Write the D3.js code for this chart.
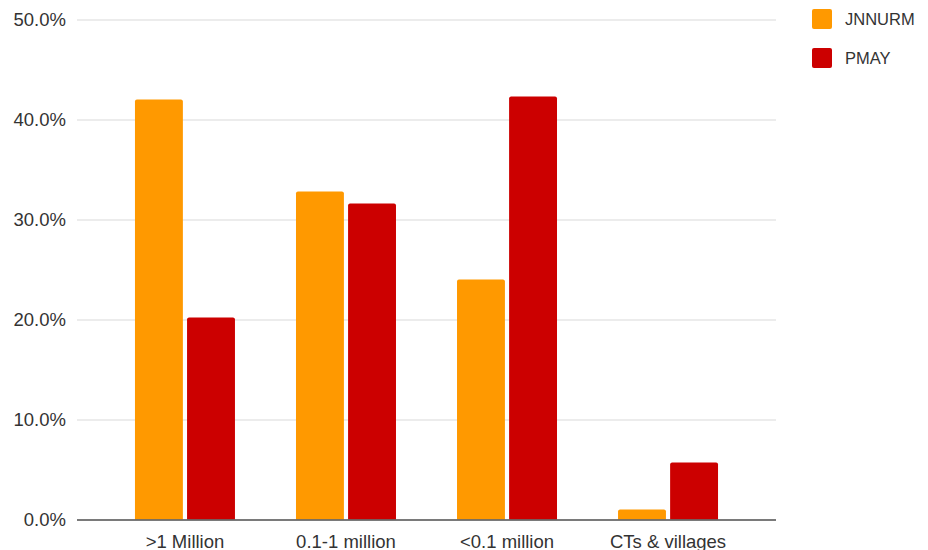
<!DOCTYPE html>
<html><head><meta charset="utf-8">
<script src="https://cdn.jsdelivr.net/npm/d3@7"></script>
<style>body{margin:0;background:#fff}svg{display:block}text{font-family:"Liberation Sans",Arial,sans-serif}</style>
</head><body><svg id="c" width="928" height="550"></svg>
<script>
const categories = [">1 Million", "0.1-1 million", "<0.1 million", "CTs & villages"];
const seriesNames = ["JNNURM", "PMAY"];
const jnnurm = [42.0, 32.8, 24.0, 1.0];
const pmay = [20.2, 31.6, 42.3, 5.7];
const yTicks = [0, 10, 20, 30, 40, 50];
const colors = ["#ff9900", "#cc0000"];

const svg = d3.select("#c");
const x0 = 77, x1 = 776, yTop = 19.5, yBot = 519.5;
const y = d3.scaleLinear().domain([0, 50]).range([yBot, yTop]);
const x = d3.scaleBand().domain(categories).range([x0, x1]).paddingInner(0.379).paddingOuter(0.36);
const xs = d3.scaleBand().domain(seriesNames).range([0, x.bandwidth()]).paddingInner(0.08);
const color = d3.scaleOrdinal().domain(seriesNames).range(colors);
const data = categories.map((c, i) => ({cat: c, vals: [{s: "JNNURM", v: jnnurm[i]}, {s: "PMAY", v: pmay[i]}]}));

// grid
const yAxis = d3.axisLeft(y).tickValues(yTicks).tickSize(-(x1 - x0)).tickFormat(d => d.toFixed(1) + "%");
const ga = svg.append("g").attr("transform", `translate(${x0},0)`).call(yAxis);
ga.select(".domain").remove();
ga.selectAll(".tick line").attr("stroke", "#d9d9d9").attr("stroke-width", 1.2);
ga.selectAll(".tick text").attr("x", -11).attr("fill", "#333").style("font-size", "18.5px").attr("dy", "0.33em");

// bars
const r = 2;
function topRounded(xp, yp, w, h) {
  const rr = Math.min(r, h / 2, w / 2);
  return `M${xp},${yp + h}V${yp + rr}Q${xp},${yp} ${xp + rr},${yp}H${xp + w - rr}Q${xp + w},${yp} ${xp + w},${yp + rr}V${yp + h}Z`;
}
svg.append("g").selectAll("g").data(data).join("g")
  .attr("transform", d => `translate(${x(d.cat)},0)`)
  .selectAll("path").data(d => d.vals).join("path")
  .attr("d", d => topRounded(xs(d.s), y(d.v), xs.bandwidth(), y(0) - y(d.v)))
  .attr("fill", d => color(d.s));

// baseline
svg.append("line").attr("x1", x0).attr("x2", x1).attr("y1", yBot + 0.5).attr("y2", yBot + 0.5)
  .attr("stroke", "#555").attr("stroke-width", 1.5);

// x axis labels
const xAxis = d3.axisBottom(x).tickSize(0);
const gx = svg.append("g").attr("transform", `translate(0,${yBot})`).call(xAxis);
gx.select(".domain").remove();
gx.selectAll(".tick text").attr("y", 28.5).attr("dy", null).attr("fill", "#333").style("font-size", "18.5px");

// legend
const lg = svg.append("g").selectAll("g").data(seriesNames).join("g")
  .attr("transform", (d, i) => `translate(812,${9 + i * 39})`);
lg.append("rect").attr("width", 20).attr("height", 20).attr("rx", 2).attr("fill", d => color(d));
lg.append("text").attr("x", 33).attr("y", 10).attr("dy", "0.35em").attr("fill", "#333").style("font-size", "16.5px").text(d => d);
</script></body></html>
